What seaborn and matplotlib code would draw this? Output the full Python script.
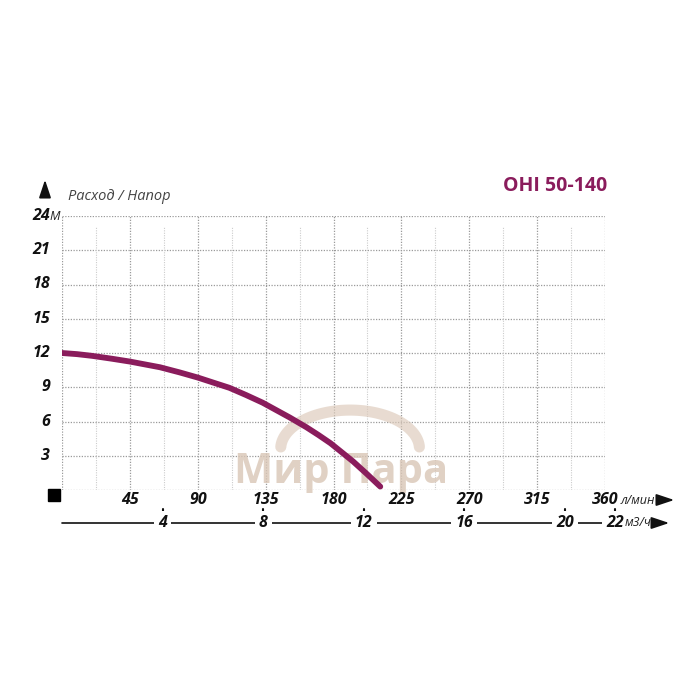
import numpy as np
import pandas as pd
import matplotlib
matplotlib.use('Agg')
import matplotlib.pyplot as plt
import matplotlib.transforms as mtransforms
import seaborn as sns

# Данные кривой (расход л/мин, напор м)
flow_lpm = [0, 10, 20, 33, 45, 55, 65, 78, 90, 100, 111, 122, 133, 142, 151,
            162, 170, 178, 186, 193, 202, 211]
head_m = [12.0, 11.9, 11.75, 11.5, 11.25, 11.0, 10.75, 10.3, 9.85, 9.42, 8.95,
          8.32, 7.65, 7.0, 6.35, 5.5, 4.82, 4.1, 3.25, 2.5, 1.42, 0.3]

y_ticks = [3, 6, 9, 12, 15, 18, 21, 24]
x_ticks = [45, 90, 135, 180, 225, 270, 315, 360]
m3h_ticks = [4, 8, 12, 16, 20, 22]

title = 'OHI 50-140'
curve_color = '#8a1c5c'

sns.set_theme(style='white')
plt.rcParams['font.family'] = ['Open Sans', 'DejaVu Sans']

fig = plt.figure(figsize=(7, 7), dpi=100)
ax = fig.add_axes([62 / 700, 1 - 490 / 700, 543 / 700, 274 / 700])

df = pd.DataFrame({'flow': flow_lpm, 'head': head_m})

# Сетка
grid_kw = dict(color='#9a9a9a', linestyles=(0, (1, 1.2)), linewidth=0.9, zorder=1)
ax.hlines([0] + y_ticks, 0, 360, **grid_kw)
ax.vlines([0] + x_ticks, 0, 24, **grid_kw)
ax.vlines([x - 22.5 for x in x_ticks], 0, 23, color='#cccccc',
          linestyles=(0, (1, 1.2)), linewidth=0.8, zorder=1)

# Водяной знак
ax.text(185, 1.55, 'Мир Пара', fontsize=30, fontweight='bold', color='#d9c6b6',
        alpha=0.8, ha='center', va='center', zorder=2)
arc_t = np.linspace(0.05, np.pi - 0.05, 80)
ax.plot(191 + 46 * np.cos(arc_t), 3.6 + 3.4 * np.sin(arc_t), color='#dcc9b9',
        linewidth=8, alpha=0.65, solid_capstyle='round', zorder=2)

sns.lineplot(data=df, x='flow', y='head', ax=ax, color=curve_color,
             linewidth=4.2, zorder=3)
ax.lines[-1].set_solid_joinstyle('round')

ax.set_xlim(0, 360)
ax.set_ylim(0, 24)
ax.set_xticks([])
ax.set_yticks([])
ax.set_xlabel('')
ax.set_ylabel('')
for s in ax.spines.values():
    s.set_visible(False)

lab_kw = dict(fontsize=11.5, fontweight='bold', fontstyle='italic', color='#111111')

# Метки оси Y
for v in y_ticks:
    ax.text(-8, v, str(v), ha='right', va='center', **lab_kw)
ax.text(-8, 24, 'М', ha='left', va='center', fontsize=9, fontstyle='italic', color='#222222')

# Метки оси X (л/мин)
for v in x_ticks:
    ax.text(v, -0.9, str(v), ha='center', va='center', **lab_kw)
ax.text(370, -0.9, 'л/мин', ha='left', va='center', fontsize=9,
        fontstyle='italic', color='#222222')

trans = mtransforms.blended_transform_factory(ax.transData, ax.transAxes)

# Черный квадрат в углу
ax.plot([-5], [-0.02], marker='s', markersize=9, color='black',
        transform=trans, clip_on=False)

# Вторая шкала (м3/ч)
line_y = -0.12
ax.plot([0, 361], [line_y, line_y], color='#111111', linewidth=1.2,
        transform=trans, clip_on=False, zorder=2)
for v in m3h_ticks:
    xv = v * 1000 / 60
    ax.plot([xv, xv], [line_y + 0.03, line_y + 0.05], color='#111111',
            linewidth=1.5, transform=trans, clip_on=False)
    ax.text(xv, line_y, str(v), ha='center', va='center', transform=trans,
            bbox=dict(facecolor='white', edgecolor='none', pad=3),
            zorder=3, **lab_kw)
ax.text(373, line_y, 'м3/ч', ha='left', va='center', fontsize=9,
        fontstyle='italic', color='#222222', transform=trans)

# Стрелки
arrow_kw = dict(arrowstyle='-|>,head_length=0.9,head_width=0.3', color='#111111', lw=1.3)
ax.annotate('', xy=(677 / 700, 1 - 500 / 700), xytext=(655 / 700, 1 - 500 / 700),
            xycoords='figure fraction', arrowprops=arrow_kw)
ax.annotate('', xy=(672 / 700, 1 - 523 / 700), xytext=(654 / 700, 1 - 523 / 700),
            xycoords='figure fraction', arrowprops=arrow_kw)
ax.annotate('', xy=(45 / 700, 1 - 177 / 700), xytext=(45 / 700, 1 - 197 / 700),
            xycoords='figure fraction', arrowprops=arrow_kw)

fig.text(68 / 700, 1 - 197 / 700, 'Расход / Напор', ha='left', va='center',
         fontsize=10.5, fontstyle='italic', color='#444444')
fig.text(607 / 700, 1 - 186 / 700, title, ha='right', va='center',
         fontsize=14, fontweight='bold', color=curve_color)

fig.savefig('out.png', dpi=100, facecolor='white')
plt.close(fig)
